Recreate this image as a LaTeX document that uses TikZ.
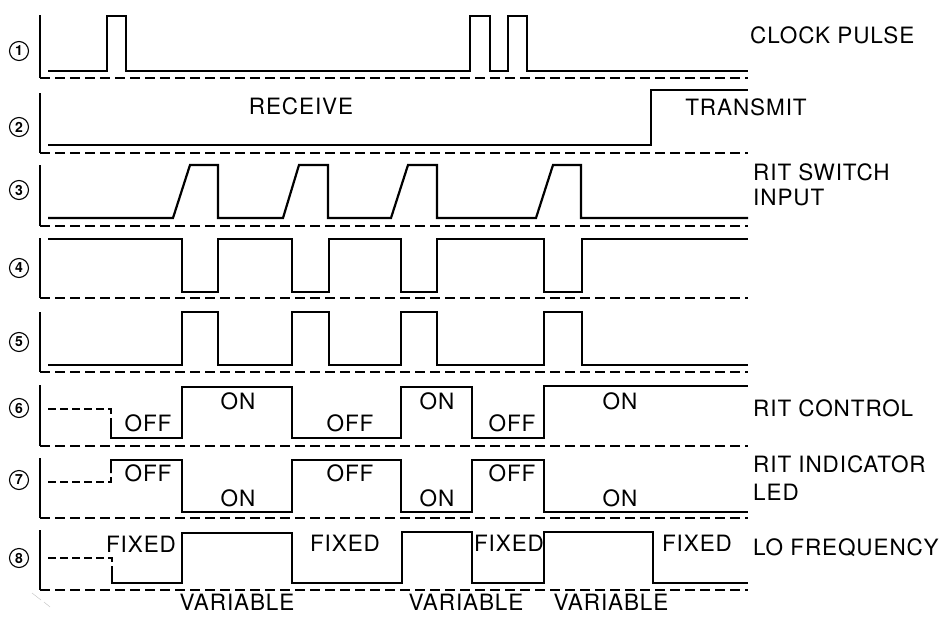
\documentclass[tikz,border=0pt]{standalone}
\usepackage{fontspec}
\setmainfont{TeX Gyre Heros}[LetterSpace=4]
\begin{document}
\begin{tikzpicture}[x=1pt,y=-1pt,
    sig/.style={line width=2.2pt,line join=miter},
    axis/.style={line width=1.6pt},
    zero/.style={line width=1.5pt,dash pattern=on 10pt off 5pt},
    prev/.style={line width=1.8pt,dash pattern=on 8pt off 4pt},
    lbl/.style={font=\fontsize{22.5}{25}\selectfont,inner sep=0pt},
    tag/.style={lbl,anchor=west,align=left},
    num/.style={circle,draw,line width=1.1pt,inner sep=0pt,minimum size=19pt,
      font=\fontsize{14}{14}\selectfont\bfseries}]
  \useasboundingbox (0,0) rectangle (948,616);
  % axes and zero lines
  \foreach \ytop/\ybase/\ynum/\n in {15/78/51/1,93/153/127/2,165/226/190/3,238/298/268/4,
      312/372/342/5,385/446/408/6,458/518/480/7,530/590/558/8} {
    \draw[axis] (40,\ytop) -- (40,\ybase);
    \draw[zero] (40,\ybase) -- (748,\ybase);
    \node[num] (n\n) at (19,\ynum) {\n};
  }
  % 1 clock pulse
  \draw[sig] (48,71) -- (107,71) -- (107,16) -- (126,16) -- (126,71) -- (470,71) -- (470,16)
    -- (490,16) -- (490,71) -- (508,71) -- (508,16) -- (527,16) -- (527,71) -- (748,71);
  % 2 receive / transmit
  \draw[sig] (48,145) -- (651,145) -- (651,90) -- (748,90);
  % 3 rit switch input
  \draw[sig] (48,218) -- (173,218) -- (190,165) -- (218,165) -- (218,218) -- (283,218)
    -- (299,165) -- (328,165) -- (328,218) -- (391,218) -- (408,165) -- (437,165) -- (437,218)
    -- (536,218) -- (553,165) -- (581,165) -- (581,218) -- (748,218);
  % 4
  \draw[sig] (48,239) -- (182,239) -- (182,292) -- (218,292) -- (218,239) -- (292,239)
    -- (292,292) -- (329,292) -- (329,239) -- (401,239) -- (401,292) -- (437,292) -- (437,239)
    -- (544,239) -- (544,292) -- (582,292) -- (582,239) -- (748,239);
  % 5
  \draw[sig] (48,365) -- (182,365) -- (182,312) -- (218,312) -- (218,365) -- (292,365)
    -- (292,312) -- (329,312) -- (329,365) -- (401,365) -- (401,312) -- (437,312) -- (437,365)
    -- (544,365) -- (544,312) -- (582,312) -- (582,365) -- (748,365);
  % 6 rit control
  \draw[prev] (48,409) -- (111,409) -- (111,418);
  \draw[sig] (111,418) -- (111,438) -- (182,438) -- (182,387) -- (292,387) -- (292,438)
    -- (401,438) -- (401,387) -- (472,387) -- (472,438) -- (544,438) -- (544,386) -- (748,386);
  % 7 rit indicator led
  \draw[prev] (48,482) -- (111,482) -- (111,473);
  \draw[sig] (111,473) -- (111,460) -- (182,460) -- (182,512) -- (292,512) -- (292,460)
    -- (401,460) -- (401,512) -- (472,512) -- (472,460) -- (544,460) -- (544,512) -- (748,512);
  % 8 lo frequency
  \draw[prev] (48,558) -- (112,558) -- (112,568);
  \draw[sig] (112,568) -- (112,583) -- (182,583) -- (182,533) -- (292,533) -- (292,583)
    -- (402,583) -- (402,532) -- (472,532) -- (472,583) -- (544,583) -- (544,532) -- (653,532)
    -- (653,583) -- (748,583);
  % state labels
  \node[lbl] (recv) at (301,106) {RECEIVE};
  \node[lbl] (xmit) at (746,107) {TRANSMIT};
  \foreach \xoff/\xon [count=\i] in {148/238,350/437,512/620} {
    \node[lbl] (ctloff\i) at (\xoff,423) {OFF};
    \node[lbl] (ctlon\i) at (\xon,401) {ON};
    \node[lbl] (ledoff\i) at (\xoff,473) {OFF};
    \node[lbl] (ledon\i) at (\xon,498) {ON};
  }
  \node[lbl] (fix1) at (141,544) {FIXED};
  \node[lbl] (fix2) at (345,543) {FIXED};
  \node[lbl] (fix3) at (509,543) {FIXED};
  \node[lbl] (fix4) at (697,543) {FIXED};
  \node[lbl] (var1) at (237,602) {VARIABLE};
  \node[lbl] (var2) at (466,602) {VARIABLE};
  \node[lbl] (var3) at (611,602) {VARIABLE};
  % signal names
  \node[tag] (clk) at (750,35) {CLOCK PULSE};
  \node[tag] (sw) at (753,185) {RIT SWITCH\\INPUT};
  \node[tag] (ctl) at (753,408) {RIT CONTROL};
  \node[tag] (led) at (753,478) {RIT INDICATOR\\[3pt]LED};
  \node[tag] (lo) at (753,548) {LO FREQUENCY};
  % scan mark
  \draw[gray!50,line width=0.4pt] (32,593) -- (41,600) (44,602) -- (50,607);
\end{tikzpicture}
\end{document}
